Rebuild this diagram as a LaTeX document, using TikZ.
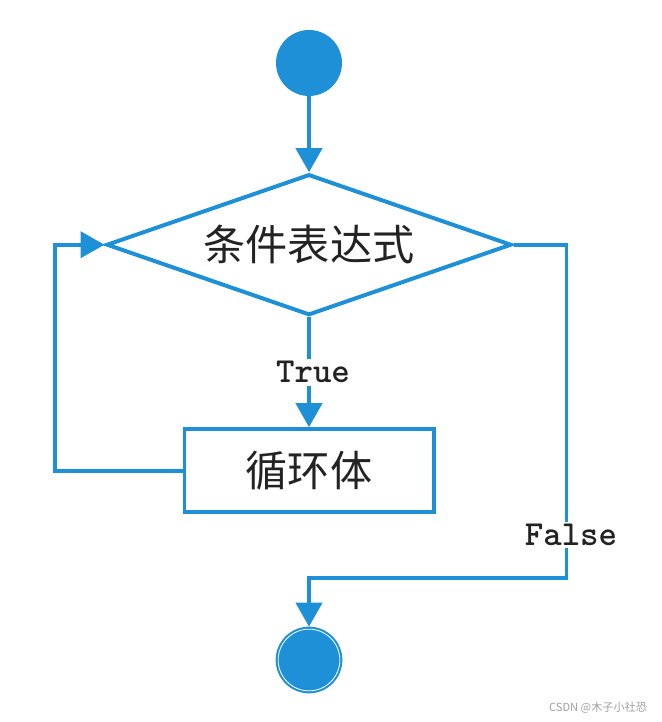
\documentclass[tikz,border=0pt]{standalone}
\usepackage{fontspec}
\newfontfamily\cjk{Noto Sans CJK SC}
\usepackage{tikz}
\usetikzlibrary{
  shapes.geometric,
  arrows.meta,
  positioning, calc
}
\usepackage{xcolor}
\definecolor{FlowBlue}{RGB}{30,144,215}
\definecolor{InkGray}{RGB}{35,35,35}
\definecolor{MarkGray}{RGB}{160,160,160}
\tikzset{
  flowline/.style={draw=FlowBlue,line width=3.4pt},
  flowarrow/.style={flowline,-{Triangle[width=0.78cm,length=0.72cm]}},
  startnode/.style={circle,fill=FlowBlue,minimum size=1.98cm,inner sep=0pt},
  stopnode/.style={circle,fill=FlowBlue,draw=FlowBlue,line width=1.8pt,
    double=white,double distance=0.7pt,minimum size=1.85cm,inner sep=0pt,
    outer sep=2.1pt},
  condbox/.style={diamond,draw=FlowBlue,line width=3.4pt,fill=white,
    shape aspect=2.87,
    minimum width=12.15cm,minimum height=4.23cm,inner sep=0pt,
    font=\cjk\fontsize{36}{40}\selectfont,text=InkGray},
  bodybox/.style={rectangle,draw=FlowBlue,line width=3.4pt,fill=white,
    minimum width=7.47cm,minimum height=2.49cm,inner sep=0pt,
    font=\cjk\fontsize{36}{40}\selectfont,text=InkGray},
  branchlbl/.style={inner sep=2pt,text=InkGray,
    font=\ttfamily\bfseries\fontsize{30}{32}\selectfont}
}
\begin{document}
\begin{tikzpicture}
  \useasboundingbox (0,0) rectangle (19.83,-21.66);
  \node[startnode] (start) at (9.27,-1.89) {};
  \node[condbox,below=2.28cm of start] (cond) {条件表达式};
  \node[bodybox,below=3.3cm of cond] (body) {循环体};
  \node[branchlbl] (true) at ($(cond.south)!0.5!(body.north)+(0.12,0)$) {True};
  \node[branchlbl] (false) at (17.13,-16.05) {False};
  \node[stopnode] (stop) at (9.27,-19.8) {};
  \coordinate[right=1.59cm of cond.east] (fr);
  \coordinate (fb) at (fr |- 0,-17.34);
  \coordinate[left=3.84cm of body.west] (lb);
  \node[text=MarkGray,font=\cjk\fontsize{9.5}{11}\selectfont] (mark) at (17.94,-21.24) {CSDN @木子小社恐};
  \draw[flowarrow] (start) -- (cond);
  \draw[flowline] (cond.south) -- (cond.south |- true.north);
  \draw[flowarrow] (cond.south |- true.south) -- (body);
  \draw[flowarrow] (body.west) -- (lb) |- (cond.west);
  \draw[flowline] (cond.east) -- (fr) -- (fr |- false.north);
  \draw[flowarrow] (fr |- false.south) -- (fb) -| (stop);
\end{tikzpicture}
\end{document}
